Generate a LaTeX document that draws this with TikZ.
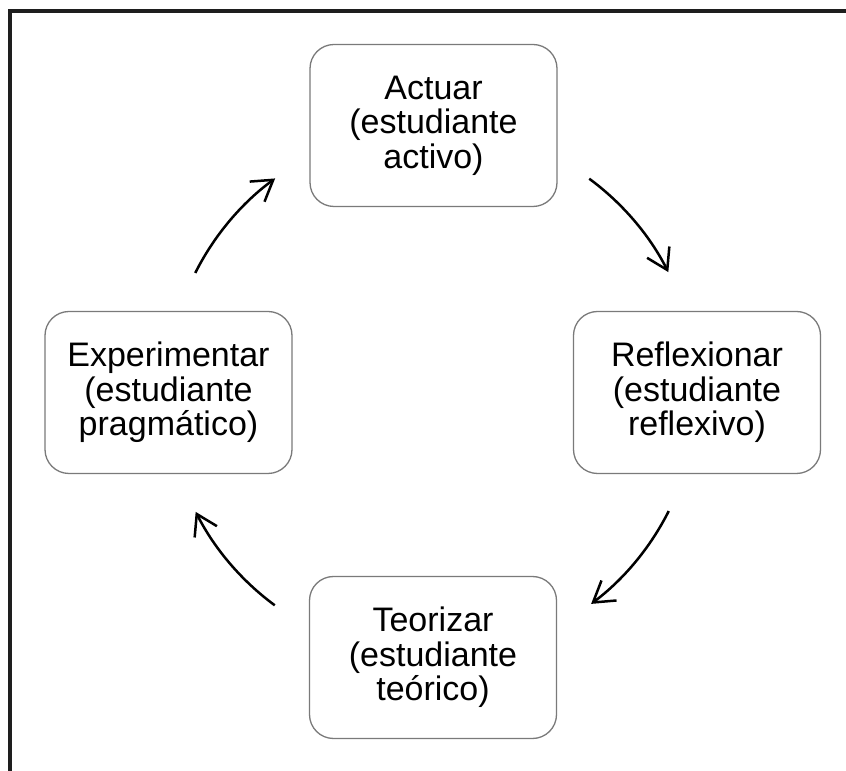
\documentclass[tikz,border=0pt]{standalone}
\usepackage{fontspec}
\setmainfont{Liberation Sans}
\usetikzlibrary{arrows.meta}
\definecolor{framec}{HTML}{1E1E1E}
\definecolor{boxc}{HTML}{7A7A7A}
\begin{document}
\begin{tikzpicture}[x=1pt,y=1pt,
  stage/.style={draw=boxc, line width=1.3pt, rounded corners=24pt,
    minimum width=247pt, minimum height=162pt, align=center,
    font=\fontsize{34}{34.5}\selectfont, inner sep=0pt},
  cyc/.style={line width=2.5pt, -{Straight Barb[length=20pt,width=25pt,line width=2.5pt]}}]
\useasboundingbox (0,0) rectangle (846,771);
\fill[white] (0,0) rectangle (846,771);
\draw[framec, line width=3.5pt] (10,0) -- (10,760) -- (846,760);
\node[stage] (act) at (433.5,645.5) {Actuar\\(estudiante\\activo)};
\node[stage] (exp) at (168.5,378.5) {Experimentar\\(estudiante\\pragmático)};
\node[stage] (ref) at (697,378.5) {Reflexionar\\(estudiante\\reflexivo)};
\node[stage] (teo) at (433,113.5) {Teorizar\\(estudiante\\teórico)};
\coordinate (ctr) at (432,379);
\coordinate (s1) at ([shift={(153.3:265)}]ctr);
\coordinate (s2) at ([shift={(53.6:265)}]ctr);
\coordinate (s3) at ([shift={(-26.7:265)}]ctr);
\coordinate (s4) at ([shift={(233.6:265)}]ctr);
\draw[cyc] (s1) arc[start angle=153.3, end angle=126.3, radius=265];
\draw[cyc] (s2) arc[start angle=53.6, end angle=26.9, radius=265];
\draw[cyc] (s3) arc[start angle=-26.7, end angle=-53.1, radius=265];
\draw[cyc] (s4) arc[start angle=233.6, end angle=206.9, radius=265];
\end{tikzpicture}
\end{document}
